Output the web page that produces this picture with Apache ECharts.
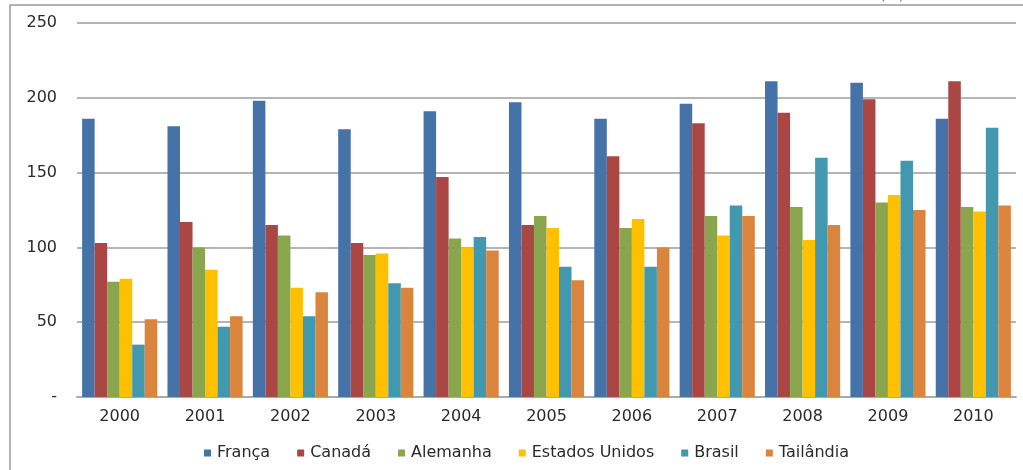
<!DOCTYPE html>
<html><head><meta charset="utf-8">
<script src="https://cdn.jsdelivr.net/npm/echarts@6/dist/echarts.min.js"></script>
<style>html,body{margin:0;padding:0;background:#fff}#c{width:1023px;height:470px}</style>
</head><body><div id="c"></div>
<script>
const categories = ['2000','2001','2002','2003','2004','2005','2006','2007','2008','2009','2010'];
const seriesNames = ['França','Canadá','Alemanha','Estados Unidos','Brasil','Tailândia'];
const franca = [186,181,198,179,191,197,186,196,211,210,186];
const canada = [103,117,115,103,147,115,161,183,190,199,211];
const alemanha = [77,100,108,95,106,121,113,121,127,130,127];
const estadosUnidos = [79,85,73,96,100,113,119,108,105,135,124];
const brasil = [35,47,54,76,107,87,87,128,160,158,180];
const tailandia = [52,54,70,73,98,78,100,121,115,125,128];
const yTicks = [0,50,100,150,200,250];
const colors = ['#4572A7','#AA4643','#89A54E','#FFC000','#4198AF','#DB843D'];
const values = [franca, canada, alemanha, estadosUnidos, brasil, tailandia];

const chart = echarts.init(document.getElementById('c'), null, {renderer:'canvas'});
chart.setOption({
  animation:false,
  color: colors,
  textStyle:{fontFamily:'DejaVu Sans, sans-serif'},
  graphic:[
    {type:'rect', shape:{x:10,y:5,width:1100,height:500}, style:{fill:'none',stroke:'#9a9a9a',lineWidth:1.5}, silent:true},
    {type:'text', left:880, top:-11, style:{text:'(%)', fontSize:14, fill:'#666', fontFamily:'DejaVu Sans'}}
  ],
  grid:{left:77, right:7, top:23, bottom:73, containLabel:false},
  legend:{
    bottom:4, left:199,
    itemWidth:7, itemHeight:7, itemGap:27,
    icon:'rect',
    textStyle:{fontSize:16, color:'#2a2a2a', padding:[0,0,0,1]},
    data: seriesNames
  },
  xAxis:{
    type:'category', data:categories,
    axisLine:{lineStyle:{color:'#aaa', width:2}},
    axisTick:{show:false},
    axisLabel:{color:'#2a2a2a', fontSize:16, margin:12}
  },
  yAxis:{
    type:'value', min:0, max:250, interval:50,
    axisLine:{show:false}, axisTick:{show:false},
    splitLine:{lineStyle:{color:'#b5b5b5', width:2}},
    axisLabel:{color:'#2a2a2a', fontSize:16, margin:20, formatter:v=> v===0 ? '-' : String(v)}
  },
  series: seriesNames.map((n,i)=>({
    name:n, type:'bar', data:values[i],
    barGap:'0%', barCategoryGap:'12%',
    itemStyle:{color:colors[i]}
  }))
});
</script></body></html>
